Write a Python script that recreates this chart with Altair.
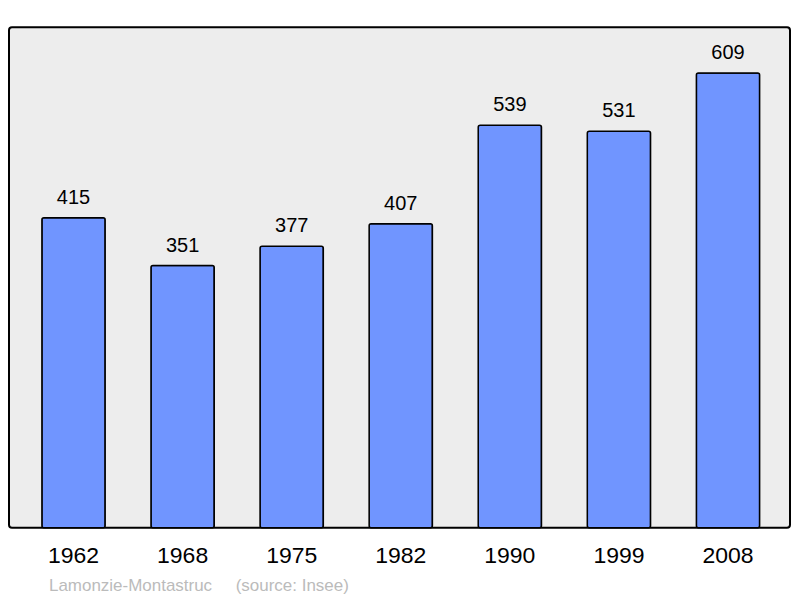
import altair as alt
import pandas as pd

years = ["1962", "1968", "1975", "1982", "1990", "1999", "2008"]
population = [415, 351, 377, 407, 539, 531, 609]
commune = "Lamonzie-Montastruc"
source = "(source: Insee)"

df = pd.DataFrame({"year": years, "pop": population})

x = alt.X("year:N", sort=years,
          scale=alt.Scale(paddingInner=0.42, paddingOuter=0.29, align=0.52),
          axis=alt.Axis(title=None, labelAngle=0, labelFontSize=23, labelColor="black",
                        labelFont="Liberation Sans", labelPadding=17, ticks=False, domain=False))
y = alt.Y("pop:Q", scale=alt.Scale(domain=[0, 670], nice=False, zero=True),
          axis=None)

bars = alt.Chart(df).mark_bar(color="#7095ff", stroke="black", strokeWidth=1.5,
                              cornerRadius=2).encode(x=x, y=y)
labels = alt.Chart(df).mark_text(baseline="bottom", dy=-10, fontSize=20,
                                 font="Liberation Sans", color="black").encode(
    x=x, y=y, text="pop:Q")

foot1 = alt.Chart(pd.DataFrame({"t": [commune]})).mark_text(
    align="left", baseline="middle", fontSize=17, font="Liberation Sans", color="#bbbbbb"
).encode(text="t:N", x=alt.value(40), y=alt.value(559))
foot2 = alt.Chart(pd.DataFrame({"t": [source]})).mark_text(
    align="left", baseline="middle", fontSize=17, font="Liberation Sans", color="#bbbbbb"
).encode(text="t:N", x=alt.value(227), y=alt.value(559))

chart = alt.layer(bars, labels, foot1, foot2).properties(
    width=782, height=501,
    autosize=alt.AutoSizeParams(type="none"),
    padding={"left": 1, "top": 19, "right": 2, "bottom": 70},
    background="white",
).configure_view(
    fill="#ededed", stroke="black", strokeWidth=2, cornerRadius=3
)

chart.save("out.html", embed_options={"renderer": "svg", "actions": False})
